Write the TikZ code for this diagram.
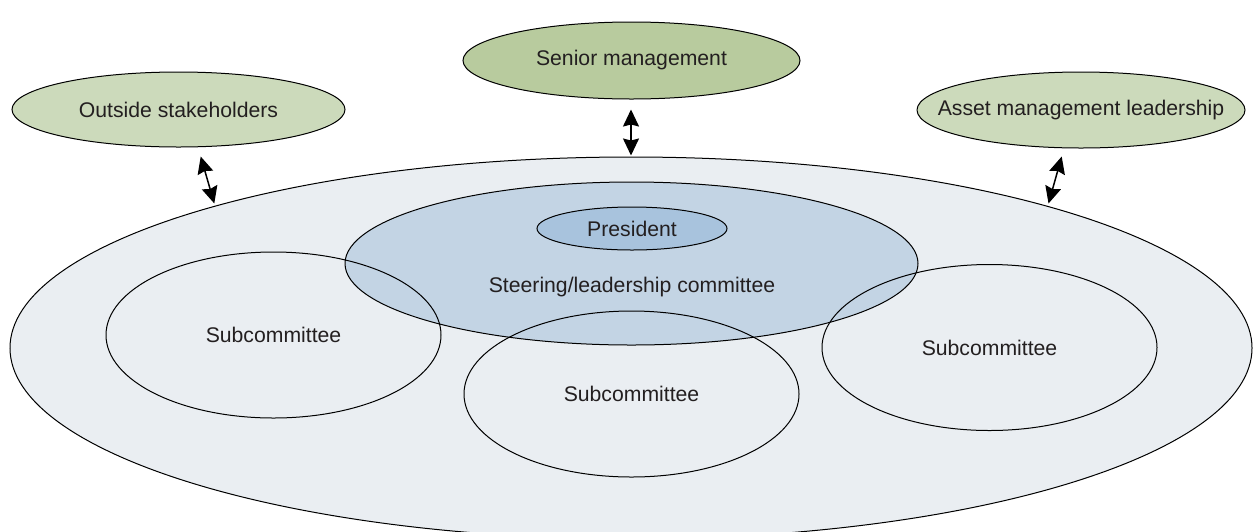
\documentclass[tikz,border=0pt]{standalone}
\usepackage{fontspec}
\setmainfont{Liberation Sans}
\usetikzlibrary{shapes.geometric,arrows.meta}
\definecolor{bigfill}{HTML}{EAEEF2}
\definecolor{steerfill}{HTML}{C3D4E4}
\definecolor{presfill}{HTML}{A8C3DD}
\definecolor{lightgreen}{HTML}{CCDABB}
\definecolor{darkgreen}{HTML}{B8CB9E}
\definecolor{txt}{HTML}{231F20}
\tikzset{
  lbl/.style={text=txt, font=\fontsize{10.6}{12}\selectfont, inner sep=0pt},
  oval/.style={ellipse, draw=black, line width=0.5pt, inner sep=0pt, outer sep=0pt},
  ovaltext/.style={oval, label={[lbl]center:#1}},
  link/.style={line width=0.75pt, {Stealth[length=8.5pt,width=8pt,inset=1pt]}-{Stealth[length=8.5pt,width=8pt,inset=1pt]}}
}
\begin{document}
\begin{tikzpicture}[x=0.5pt,y=-0.5pt]
\useasboundingbox (0,0) rectangle (1256,531);
\clip (0,0) rectangle (1256,531);
\fill[white] (0,0) rectangle (1256,531);
% big ellipse
\node[oval, fill=bigfill, minimum width=621pt, minimum height=191pt] (org) at (631,348) {};
% steering committee
\node[oval, fill=steerfill, minimum width=286.5pt, minimum height=81.5pt] (steer) at (631.5,263.5) {};
\node[lbl] (steerlbl) at (632,287) {Steering/leadership committee};
% president
\node[ovaltext=President, fill=presfill, minimum width=95pt, minimum height=21.5pt] (pres) at (632,228.5) {};
% subcommittees
\node[ovaltext=Subcommittee, minimum width=167.5pt, minimum height=83pt] (subl) at (273.5,335) {};
\node[ovaltext=Subcommittee, minimum width=167.5pt, minimum height=83pt] (subm) at (631.5,394) {};
\node[ovaltext=Subcommittee, minimum width=167.5pt, minimum height=83pt] (subr) at (989.5,347.5) {};
% top ellipses
\node[ovaltext=Outside stakeholders, fill=lightgreen, minimum width=166.5pt, minimum height=37.5pt] (out) at (178.5,109.5) {};
\node[ovaltext=Senior management, fill=darkgreen, minimum width=168.5pt, minimum height=38.5pt] (sen) at (631.5,60.5) {};
\node[ovaltext=Asset management leadership, fill=lightgreen, minimum width=164pt, minimum height=38pt] (asset) at (1081,110) {};
% connector ends
\coordinate (o1) at (200.7,156.5);
\coordinate (o2) at (214.3,203.5);
\coordinate (s1) at (631,109.5);
\coordinate (s2) at (631,155.5);
\coordinate (a1) at (1061.7,156.5);
\coordinate (a2) at (1048.5,203.5);
\draw[link] (o1) -- (o2);
\draw[link] (s1) -- (s2);
\draw[link] (a1) -- (a2);
\end{tikzpicture}
\end{document}
